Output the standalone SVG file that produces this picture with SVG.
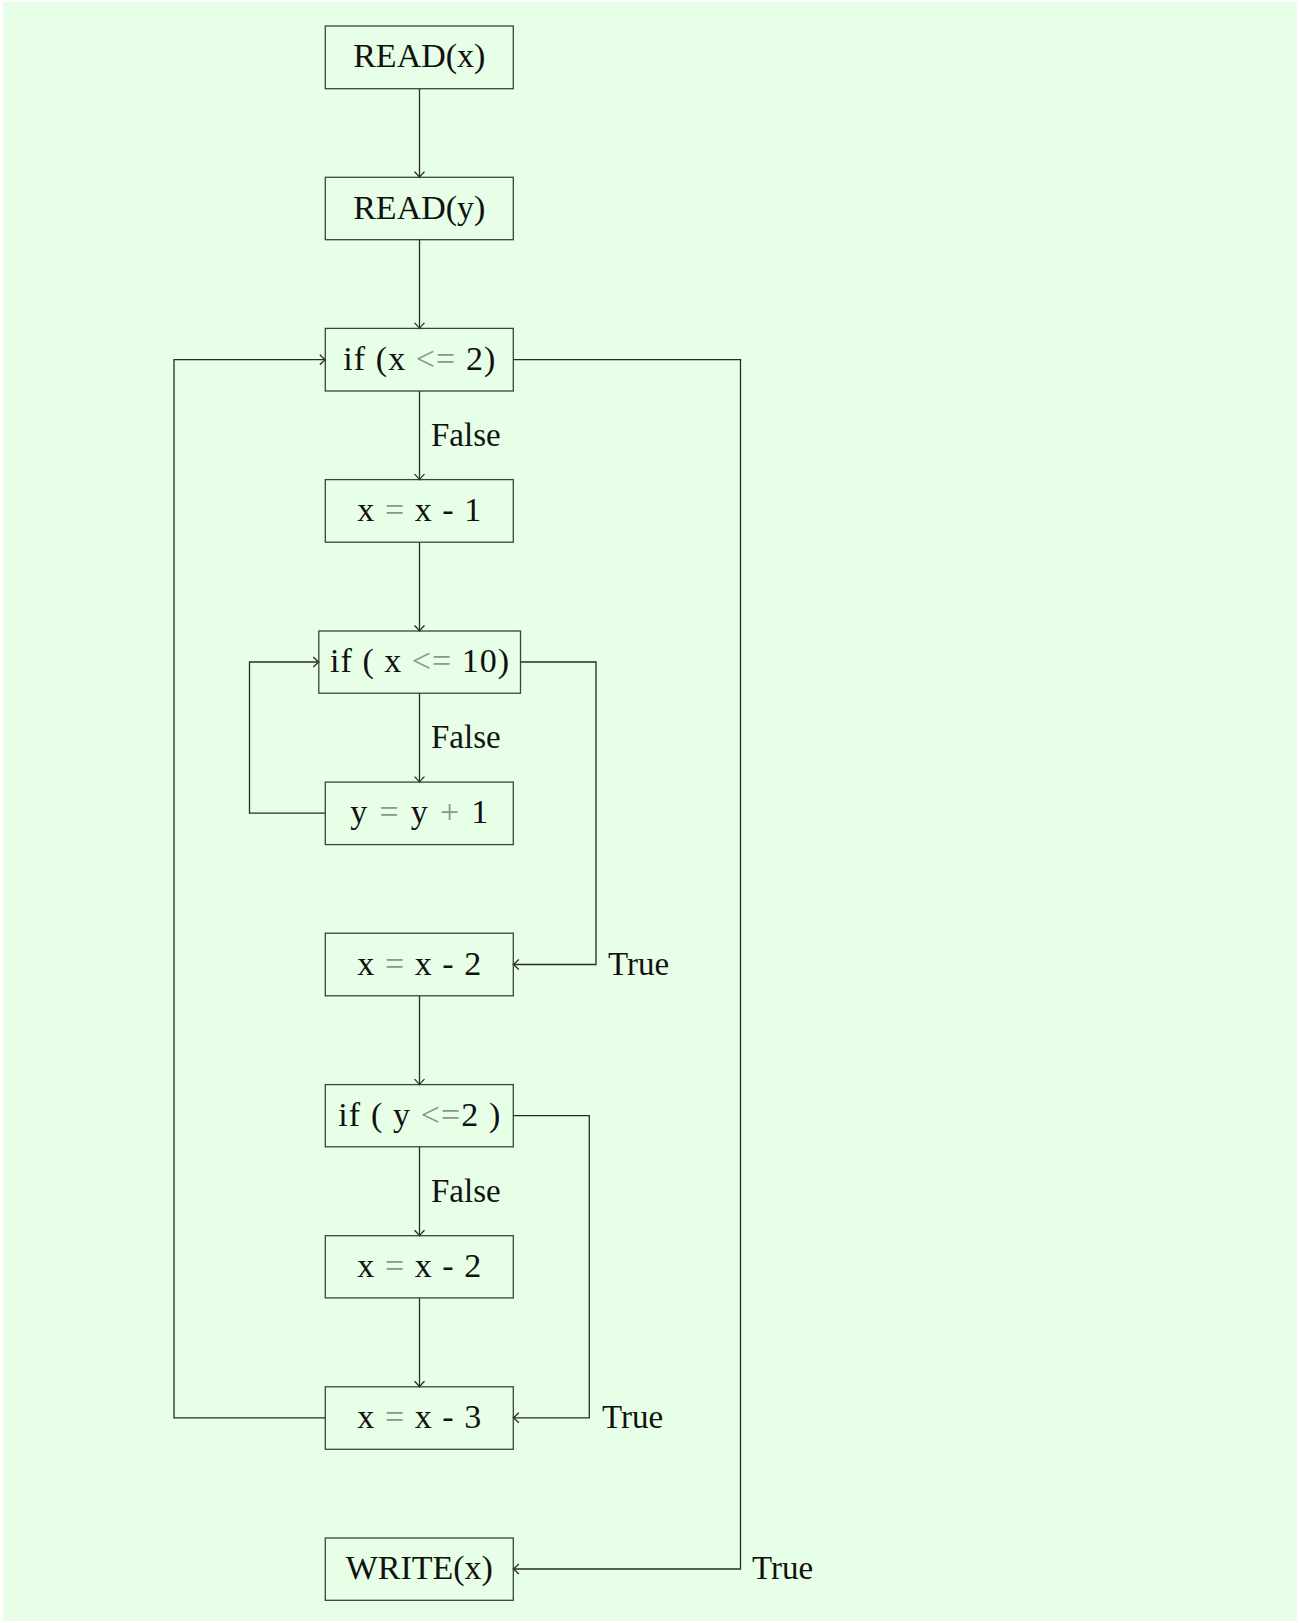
<svg xmlns="http://www.w3.org/2000/svg" width="1299" height="1623" viewBox="0 0 1299 1623">
<style>
.box{fill:none;stroke:#3a443a;stroke-width:1.3}
.t{font-family:"Liberation Serif","DejaVu Serif",serif;font-size:34px;fill:#111;text-anchor:middle}
.l{font-family:"Liberation Serif","DejaVu Serif",serif;font-size:33px;fill:#111}
.op{fill:#8a9a8a}
.c{fill:none;stroke:#2a2a2a;stroke-width:1.3}
</style>
<defs>
<marker id="arr" markerUnits="userSpaceOnUse" markerWidth="16" markerHeight="16" viewBox="-8 -8 10 16" refX="0" refY="0" orient="auto">
<path d="M-5.5,-5 Q-1.5,-1 0,0 Q-1.5,1 -5.5,5" fill="none" stroke="#2a2a2a" stroke-width="1.3"/>
</marker>
</defs>
<rect x="0" y="0" width="1299" height="1623" fill="#ffffff"/>
<rect x="3" y="2" width="1294" height="1619" fill="#e6ffe6"/>
<g id="connectors">
<path class="c" d="M419.5,88.7 V177.3" marker-end="url(#arr)"/>
<path class="c" d="M419.5,239.7 V328.4" marker-end="url(#arr)"/>
<path class="c" d="M419.5,391 V479.6" marker-end="url(#arr)"/>
<text class="l" x="431" y="446">False</text>
<path class="c" d="M419.5,542.2 V631" marker-end="url(#arr)"/>
<path class="c" d="M419.5,693.2 V782.1" marker-end="url(#arr)"/>
<text class="l" x="431" y="748">False</text>
<path class="c" d="M325.3,813.2 H249.5 V662 H318.8" marker-end="url(#arr)"/>
<path class="c" d="M520.5,662 H596 V964.5 H513.3" marker-end="url(#arr)"/>
<text class="l" x="608" y="975">True</text>
<path class="c" d="M419.5,995.8 V1084.6" marker-end="url(#arr)"/>
<path class="c" d="M419.5,1146.8 V1235.7" marker-end="url(#arr)"/>
<text class="l" x="431" y="1202">False</text>
<path class="c" d="M419.5,1297.9 V1386.8" marker-end="url(#arr)"/>
<path class="c" d="M513.3,1115.7 H589.3 V1417.8 H513.3" marker-end="url(#arr)"/>
<text class="l" x="602" y="1428">True</text>
<path class="c" d="M325.3,1417.8 H174 V359.7 H325.3" marker-end="url(#arr)"/>
<path class="c" d="M513.3,359.7 H740.5 V1569 H513.3" marker-end="url(#arr)"/>
<text class="l" x="752" y="1579">True</text>
</g>
<g id="read_x"><rect class="box" x="325.3" y="26" width="188" height="62.7"/><text class="t" x="419.3" y="67">READ(x)</text></g>
<g id="read_y"><rect class="box" x="325.3" y="177.3" width="188" height="62.4"/><text class="t" x="419.3" y="218.5">READ(y)</text></g>
<g id="if_x_le_2"><rect class="box" x="325.3" y="328.4" width="188" height="62.6"/><text class="t" x="419.3" y="369.7" textLength="152" lengthAdjust="spacing">if (x <tspan class="op">&lt;=</tspan> 2)</text></g>
<g id="x_minus_1"><rect class="box" x="325.3" y="479.6" width="188" height="62.6"/><text class="t" x="419.3" y="521" textLength="124" lengthAdjust="spacing">x <tspan class="op">=</tspan> x - 1</text></g>
<g id="if_x_le_10"><rect class="box" x="318.8" y="631" width="201.7" height="62.2"/><text class="t" x="419.6" y="672" textLength="179" lengthAdjust="spacing">if ( x <tspan class="op">&lt;=</tspan> 10)</text></g>
<g id="y_plus_1"><rect class="box" x="325.3" y="782.1" width="188" height="62.5"/><text class="t" x="419.3" y="823.3" textLength="138" lengthAdjust="spacing">y <tspan class="op">=</tspan> y <tspan class="op">+</tspan> 1</text></g>
<g id="x_minus_2a"><rect class="box" x="325.3" y="933.2" width="188" height="62.6"/><text class="t" x="419.3" y="974.5" textLength="124" lengthAdjust="spacing">x <tspan class="op">=</tspan> x - 2</text></g>
<g id="if_y_le_2"><rect class="box" x="325.3" y="1084.6" width="188" height="62.2"/><text class="t" x="419.3" y="1125.7" textLength="162" lengthAdjust="spacing">if ( y <tspan class="op">&lt;=</tspan>2 )</text></g>
<g id="x_minus_2b"><rect class="box" x="325.3" y="1235.7" width="188" height="62.2"/><text class="t" x="419.3" y="1276.8" textLength="124" lengthAdjust="spacing">x <tspan class="op">=</tspan> x - 2</text></g>
<g id="x_minus_3"><rect class="box" x="325.3" y="1386.8" width="188" height="62.5"/><text class="t" x="419.3" y="1428" textLength="124" lengthAdjust="spacing">x <tspan class="op">=</tspan> x - 3</text></g>
<g id="write_x"><rect class="box" x="325.3" y="1538" width="188" height="62.3"/><text class="t" x="419.3" y="1579">WRITE(x)</text></g>
</svg>
